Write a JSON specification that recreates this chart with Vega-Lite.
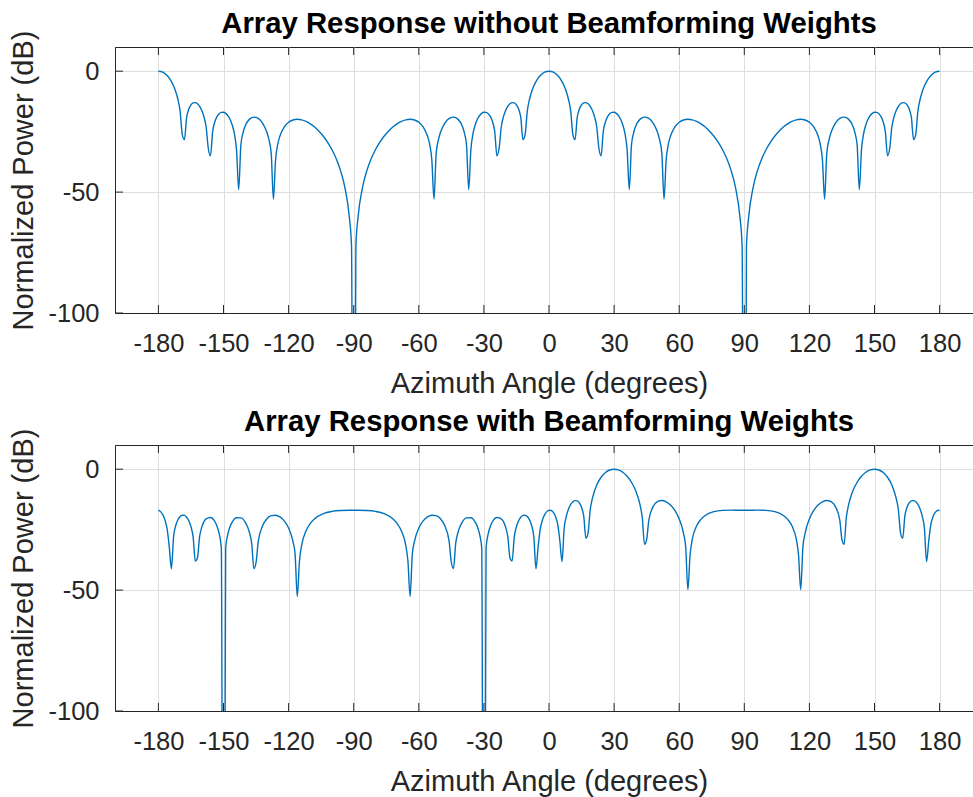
{
"$schema":"https://vega.github.io/schema/vega-lite/v6.json",
"background":"white",
"padding":{"left":8,"top":9,"right":0,"bottom":0},
"bounds":"flush",
"spacing":132,
"config":{
 "font":"Liberation Sans",
 "view":{"stroke":"#262626","strokeWidth":1},
 "axis":{"labelFont":"Liberation Sans","labelFontSize":25.5,"labelColor":"#262626","titleFont":"Liberation Sans","titleFontSize":29,"titleFontWeight":"normal","titleColor":"#262626","domainColor":"#262626","gridColor":"#dedede","gridWidth":1,"labelFlush":false,"labelOverlap":false,"ticks":false,"labelExpr":"'' + datum.value"},
 "title":{"font":"Liberation Sans","fontSize":29.3,"fontWeight":"bold","color":"#000000","anchor":"middle","frame":"group","baseline":"alphabetic","offset":-9}
},
"datasets":{
"xt":[{"v":-180},{"v":-150},{"v":-120},{"v":-90},{"v":-60},{"v":-30},{"v":0},{"v":30},{"v":60},{"v":90},{"v":120},{"v":150},{"v":180}],
"yt":[{"v":-100},{"v":-50},{"v":0}],
"t":[{"a":-180,"p":0},{"a":-179,"p":-0.11},{"a":-178,"p":-0.44},{"a":-177,"p":-0.99},{"a":-176,"p":-1.8},{"a":-175,"p":-2.88},{"a":-174,"p":-4.29},{"a":-173,"p":-6.11},{"a":-172,"p":-8.48},{"a":-171,"p":-11.71},{"a":-170,"p":-16.5},{"a":-169,"p":-26.2},{"a":-168,"p":-28.3},{"a":-167,"p":-19.14},{"a":-166,"p":-15.65},{"a":-165,"p":-13.9},{"a":-164,"p":-13.11},{"a":-163,"p":-13.0},{"a":-162,"p":-13.47},{"a":-161,"p":-14.51},{"a":-160,"p":-16.23},{"a":-159,"p":-18.88},{"a":-158,"p":-23.08},{"a":-157,"p":-31.97},{"a":-156,"p":-35.0},{"a":-155,"p":-24.97},{"a":-154,"p":-20.99},{"a":-153,"p":-18.81},{"a":-152,"p":-17.6},{"a":-151,"p":-17.03},{"a":-150,"p":-16.99},{"a":-149,"p":-17.44},{"a":-148,"p":-18.37},{"a":-147,"p":-19.89},{"a":-146,"p":-22.2},{"a":-145,"p":-25.75},{"a":-144,"p":-32.44},{"a":-143,"p":-49.0},{"a":-142,"p":-30.58},{"a":-141,"p":-25.48},{"a":-140,"p":-22.67},{"a":-138,"p":-19.83},{"a":-136,"p":-18.99},{"a":-134,"p":-19.53},{"a":-132,"p":-21.44},{"a":-130,"p":-25.26},{"a":-129,"p":-28.54},{"a":-128,"p":-34.08},{"a":-127,"p":-52.9},{"a":-126,"p":-36.6},{"a":-125,"p":-30.21},{"a":-124,"p":-26.8},{"a":-122,"p":-23.03},{"a":-120,"p":-21.1},{"a":-118,"p":-20.17},{"a":-116,"p":-19.89},{"a":-114,"p":-20.12},{"a":-112,"p":-20.76},{"a":-110,"p":-21.77},{"a":-108,"p":-23.12},{"a":-106,"p":-24.85},{"a":-104,"p":-26.91},{"a":-102,"p":-29.45},{"a":-100,"p":-32.51},{"a":-98,"p":-36.35},{"a":-96,"p":-41.32},{"a":-94,"p":-48.35},{"a":-92,"p":-60.4},{"a":-91,"p":-72.4},{"a":-90,"p":-300},
{"a":-89,"p":-72.4},{"a":-88,"p":-60.4},{"a":-86,"p":-48.35},{"a":-84,"p":-41.32},{"a":-82,"p":-36.35},{"a":-80,"p":-32.51},{"a":-78,"p":-29.45},{"a":-76,"p":-26.91},{"a":-74,"p":-24.85},{"a":-72,"p":-23.12},{"a":-70,"p":-21.77},{"a":-68,"p":-20.76},{"a":-66,"p":-20.12},{"a":-64,"p":-19.89},{"a":-62,"p":-20.17},{"a":-60,"p":-21.1},{"a":-58,"p":-23.03},{"a":-56,"p":-26.8},{"a":-55,"p":-30.21},{"a":-54,"p":-36.6},{"a":-53,"p":-52.9},{"a":-52,"p":-34.08},{"a":-51,"p":-28.54},{"a":-50,"p":-25.26},{"a":-48,"p":-21.44},{"a":-46,"p":-19.53},{"a":-44,"p":-18.99},{"a":-42,"p":-19.83},{"a":-40,"p":-22.67},{"a":-39,"p":-25.48},{"a":-38,"p":-30.58},{"a":-37,"p":-49.0},{"a":-36,"p":-32.44},{"a":-35,"p":-25.75},{"a":-34,"p":-22.2},{"a":-33,"p":-19.89},{"a":-32,"p":-18.37},{"a":-31,"p":-17.44},{"a":-30,"p":-16.99},{"a":-29,"p":-17.03},{"a":-28,"p":-17.6},{"a":-27,"p":-18.81},{"a":-26,"p":-20.99},{"a":-25,"p":-24.97},{"a":-24,"p":-35.0},{"a":-23,"p":-31.97},{"a":-22,"p":-23.08},{"a":-21,"p":-18.88},{"a":-20,"p":-16.23},{"a":-19,"p":-14.51},{"a":-18,"p":-13.47},{"a":-17,"p":-13.0},{"a":-16,"p":-13.11},{"a":-15,"p":-13.9},{"a":-14,"p":-15.65},{"a":-13,"p":-19.14},{"a":-12,"p":-28.3},{"a":-11,"p":-26.2},{"a":-10,"p":-16.5},{"a":-9,"p":-11.71},{"a":-8,"p":-8.48},{"a":-7,"p":-6.11},{"a":-6,"p":-4.29},{"a":-5,"p":-2.88},{"a":-4,"p":-1.8},{"a":-3,"p":-0.99},{"a":-2,"p":-0.44},{"a":-1,"p":-0.11},
{"a":0,"p":0},{"a":1,"p":-0.11},{"a":2,"p":-0.44},{"a":3,"p":-0.99},{"a":4,"p":-1.8},{"a":5,"p":-2.88},{"a":6,"p":-4.29},{"a":7,"p":-6.11},{"a":8,"p":-8.48},{"a":9,"p":-11.71},{"a":10,"p":-16.5},{"a":11,"p":-26.2},{"a":12,"p":-28.3},{"a":13,"p":-19.14},{"a":14,"p":-15.65},{"a":15,"p":-13.9},{"a":16,"p":-13.11},{"a":17,"p":-13.0},{"a":18,"p":-13.47},{"a":19,"p":-14.51},{"a":20,"p":-16.23},{"a":21,"p":-18.88},{"a":22,"p":-23.08},{"a":23,"p":-31.97},{"a":24,"p":-35.0},{"a":25,"p":-24.97},{"a":26,"p":-20.99},{"a":27,"p":-18.81},{"a":28,"p":-17.6},{"a":29,"p":-17.03},{"a":30,"p":-16.99},{"a":31,"p":-17.44},{"a":32,"p":-18.37},{"a":33,"p":-19.89},{"a":34,"p":-22.2},{"a":35,"p":-25.75},{"a":36,"p":-32.44},{"a":37,"p":-49.0},{"a":38,"p":-30.58},{"a":39,"p":-25.48},{"a":40,"p":-22.67},{"a":42,"p":-19.83},{"a":44,"p":-18.99},{"a":46,"p":-19.53},{"a":48,"p":-21.44},{"a":50,"p":-25.26},{"a":51,"p":-28.54},{"a":52,"p":-34.08},{"a":53,"p":-52.9},{"a":54,"p":-36.6},{"a":55,"p":-30.21},{"a":56,"p":-26.8},{"a":58,"p":-23.03},{"a":60,"p":-21.1},{"a":62,"p":-20.17},{"a":64,"p":-19.89},{"a":66,"p":-20.12},{"a":68,"p":-20.76},{"a":70,"p":-21.77},{"a":72,"p":-23.12},{"a":74,"p":-24.85},{"a":76,"p":-26.91},{"a":78,"p":-29.45},{"a":80,"p":-32.51},{"a":82,"p":-36.35},{"a":84,"p":-41.32},{"a":86,"p":-48.35},{"a":88,"p":-60.4},{"a":89,"p":-72.4},{"a":90,"p":-300},
{"a":91,"p":-72.4},{"a":92,"p":-60.4},{"a":94,"p":-48.35},{"a":96,"p":-41.32},{"a":98,"p":-36.35},{"a":100,"p":-32.51},{"a":102,"p":-29.45},{"a":104,"p":-26.91},{"a":106,"p":-24.85},{"a":108,"p":-23.12},{"a":110,"p":-21.77},{"a":112,"p":-20.76},{"a":114,"p":-20.12},{"a":116,"p":-19.89},{"a":118,"p":-20.17},{"a":120,"p":-21.1},{"a":122,"p":-23.03},{"a":124,"p":-26.8},{"a":125,"p":-30.21},{"a":126,"p":-36.6},{"a":127,"p":-52.9},{"a":128,"p":-34.08},{"a":129,"p":-28.54},{"a":130,"p":-25.26},{"a":132,"p":-21.44},{"a":134,"p":-19.53},{"a":136,"p":-18.99},{"a":138,"p":-19.83},{"a":140,"p":-22.67},{"a":141,"p":-25.48},{"a":142,"p":-30.58},{"a":143,"p":-49.0},{"a":144,"p":-32.44},{"a":145,"p":-25.75},{"a":146,"p":-22.2},{"a":147,"p":-19.89},{"a":148,"p":-18.37},{"a":149,"p":-17.44},{"a":150,"p":-16.99},{"a":151,"p":-17.03},{"a":152,"p":-17.6},{"a":153,"p":-18.81},{"a":154,"p":-20.99},{"a":155,"p":-24.97},{"a":156,"p":-35.0},{"a":157,"p":-31.97},{"a":158,"p":-23.08},{"a":159,"p":-18.88},{"a":160,"p":-16.23},{"a":161,"p":-14.51},{"a":162,"p":-13.47},{"a":163,"p":-13.0},{"a":164,"p":-13.11},{"a":165,"p":-13.9},{"a":166,"p":-15.65},{"a":167,"p":-19.14},{"a":168,"p":-28.3},{"a":169,"p":-26.2},{"a":170,"p":-16.5},{"a":171,"p":-11.71},{"a":172,"p":-8.48},{"a":173,"p":-6.11},{"a":174,"p":-4.29},{"a":175,"p":-2.88},{"a":176,"p":-1.8},{"a":177,"p":-0.99},{"a":178,"p":-0.44},{"a":179,"p":-0.11},{"a":180,"p":0}],
"b":[{"a":-180,"p":-16.99},{"a":-179,"p":-17.55},{"a":-178,"p":-18.82},{"a":-177,"p":-20.98},{"a":-176,"p":-24.62},{"a":-175,"p":-32.0},{"a":-174,"p":-41.17},{"a":-173,"p":-27.82},{"a":-172,"p":-23.3},{"a":-171,"p":-20.89},{"a":-170,"p":-19.57},{"a":-169,"p":-19.02},{"a":-168,"p":-19.12},{"a":-167,"p":-19.85},{"a":-166,"p":-21.3},{"a":-165,"p":-23.76},{"a":-164,"p":-28.01},{"a":-163,"p":-37.98},{"a":-162,"p":-36.6},{"a":-161,"p":-27.82},{"a":-160,"p":-23.98},{"a":-158,"p":-20.54},{"a":-156,"p":-19.96},{"a":-154,"p":-21.64},{"a":-153,"p":-23.55},{"a":-152,"p":-26.68},{"a":-151,"p":-32.51},{"a":-150,"p":-300},{"a":-149,"p":-32.61},{"a":-148,"p":-26.87},{"a":-147,"p":-23.78},{"a":-146,"p":-21.88},{"a":-144,"p":-20.08},{"a":-142,"p":-20.12},{"a":-140,"p":-21.91},{"a":-138,"p":-26.32},{"a":-137,"p":-30.72},{"a":-136,"p":-41.12},{"a":-135,"p":-38.59},{"a":-134,"p":-29.96},{"a":-132,"p":-23.41},{"a":-130,"p":-20.52},{"a":-128,"p":-19.23},{"a":-126,"p":-19.02},{"a":-124,"p":-19.72},{"a":-122,"p":-21.39},{"a":-120,"p":-24.35},{"a":-118,"p":-29.87},{"a":-117,"p":-35.27},{"a":-116,"p":-52.6},{"a":-115,"p":-38.18},{"a":-114,"p":-31.52},{"a":-112,"p":-25.53},{"a":-110,"p":-22.42},{"a":-108,"p":-20.48},{"a":-104,"p":-18.36},{"a":-100,"p":-17.45},{"a":-96,"p":-17.09},{"a":-92,"p":-17.0},
{"a":-90,"p":-16.99},{"a":-88,"p":-17.0},{"a":-84,"p":-17.09},{"a":-80,"p":-17.45},{"a":-76,"p":-18.36},{"a":-72,"p":-20.48},{"a":-70,"p":-22.42},{"a":-68,"p":-25.53},{"a":-66,"p":-31.52},{"a":-65,"p":-38.18},{"a":-64,"p":-52.6},{"a":-63,"p":-35.27},{"a":-62,"p":-29.87},{"a":-60,"p":-24.35},{"a":-58,"p":-21.39},{"a":-56,"p":-19.72},{"a":-54,"p":-19.02},{"a":-52,"p":-19.23},{"a":-50,"p":-20.52},{"a":-48,"p":-23.41},{"a":-46,"p":-29.96},{"a":-45,"p":-38.59},{"a":-44,"p":-41.12},{"a":-43,"p":-30.72},{"a":-42,"p":-26.32},{"a":-40,"p":-21.91},{"a":-38,"p":-20.12},{"a":-36,"p":-20.08},{"a":-34,"p":-21.88},{"a":-33,"p":-23.78},{"a":-32,"p":-26.87},{"a":-31,"p":-32.61},{"a":-30,"p":-300},{"a":-29,"p":-32.51},{"a":-28,"p":-26.68},{"a":-27,"p":-23.55},{"a":-26,"p":-21.64},{"a":-24,"p":-19.96},{"a":-22,"p":-20.54},{"a":-20,"p":-23.98},{"a":-19,"p":-27.82},{"a":-18,"p":-36.6},{"a":-17,"p":-37.98},{"a":-16,"p":-28.01},{"a":-15,"p":-23.76},{"a":-14,"p":-21.3},{"a":-13,"p":-19.85},{"a":-12,"p":-19.12},{"a":-11,"p":-19.02},{"a":-10,"p":-19.57},{"a":-9,"p":-20.89},{"a":-8,"p":-23.3},{"a":-7,"p":-27.82},{"a":-6,"p":-41.17},{"a":-5,"p":-32.0},{"a":-4,"p":-24.62},{"a":-3,"p":-20.98},{"a":-2,"p":-18.82},{"a":-1,"p":-17.55},{"a":0,"p":-16.99},{"a":1,"p":-17.08},{"a":2,"p":-17.86},{"a":3,"p":-19.56},{"a":4,"p":-22.72},{"a":5,"p":-29.58},{"a":6,"p":-38.26},{"a":7,"p":-24.4},{"a":8,"p":-19.38},{"a":9,"p":-16.43},{"a":10,"p":-14.57},{"a":11,"p":-13.47},{"a":12,"p":-12.99},{"a":13,"p":-13.12},{"a":14,"p":-13.96},{"a":15,"p":-15.76},{"a":16,"p":-19.32},{"a":17,"p":-28.56},{"a":18,"p":-26.42},{"a":19,"p":-16.78},{"a":20,"p":-12.07},{"a":22,"p":-6.54},{"a":24,"p":-3.33},{"a":26,"p":-1.39},{"a":28,"p":-0.33},{"a":30,"p":0},{"a":32,"p":-0.32},{"a":34,"p":-1.28},{"a":36,"p":-2.92},{"a":38,"p":-5.4},{"a":40,"p":-9.07},{"a":42,"p":-15.01},{"a":43,"p":-20.09},{"a":44,"p":-31.1},{"a":45,"p":-29.16},{"a":46,"p":-21.05},{"a":48,"p":-15.48},{"a":50,"p":-13.46},{"a":52,"p":-12.97},{"a":54,"p":-13.47},{"a":56,"p":-14.81},{"a":58,"p":-17.07},{"a":60,"p":-20.58},{"a":62,"p":-26.6},{"a":63,"p":-32.24},{"a":64,"p":-49.8},{"a":65,"p":-35.6},{"a":66,"p":-29.14},{"a":68,"p":-23.53},{"a":70,"p":-20.76},{"a":72,"p":-19.13},{"a":76,"p":-17.55},{"a":80,"p":-17.03},{"a":84,"p":-16.95},{"a":88,"p":-16.98},{"a":90,"p":-16.99},
{"a":92,"p":-16.98},{"a":96,"p":-16.95},{"a":100,"p":-17.03},{"a":104,"p":-17.55},{"a":108,"p":-19.13},{"a":110,"p":-20.76},{"a":112,"p":-23.53},{"a":114,"p":-29.14},{"a":115,"p":-35.6},{"a":116,"p":-49.8},{"a":117,"p":-32.24},{"a":118,"p":-26.6},{"a":120,"p":-20.58},{"a":122,"p":-17.07},{"a":124,"p":-14.81},{"a":126,"p":-13.47},{"a":128,"p":-12.97},{"a":130,"p":-13.46},{"a":132,"p":-15.48},{"a":134,"p":-21.05},{"a":135,"p":-29.16},{"a":136,"p":-31.1},{"a":137,"p":-20.09},{"a":138,"p":-15.01},{"a":140,"p":-9.07},{"a":142,"p":-5.4},{"a":144,"p":-2.92},{"a":146,"p":-1.28},{"a":148,"p":-0.32},{"a":150,"p":0},{"a":152,"p":-0.33},{"a":154,"p":-1.39},{"a":156,"p":-3.33},{"a":158,"p":-6.54},{"a":160,"p":-12.07},{"a":161,"p":-16.78},{"a":162,"p":-26.42},{"a":163,"p":-28.56},{"a":164,"p":-19.32},{"a":165,"p":-15.76},{"a":166,"p":-13.96},{"a":167,"p":-13.12},{"a":168,"p":-12.99},{"a":169,"p":-13.47},{"a":170,"p":-14.57},{"a":171,"p":-16.43},{"a":172,"p":-19.38},{"a":173,"p":-24.4},{"a":174,"p":-38.26},{"a":175,"p":-29.58},{"a":176,"p":-22.72},{"a":177,"p":-19.56},{"a":178,"p":-17.86},{"a":179,"p":-17.08},{"a":180,"p":-16.99}]
},
"vconcat":[
{"width":868,"height":266,
 "title":{"text":"Array Response without Beamforming Weights"},
 "layer":[
  {"data":{"name":"t"},
   "mark":{"type":"line","color":"#0072BD","strokeWidth":1.4,"clip":true,"interpolate":"monotone"},
   "encoding":{
    "x":{"field":"a","type":"quantitative","scale":{"domain":[-200,200],"nice":false,"zero":false},
     "axis":{"orient":"bottom","values":[-180,-150,-120,-90,-60,-30,0,30,60,90,120,150,180],"title":"Azimuth Angle (degrees)","grid":true,"labelPadding":18,"titleX":434,"titleY":79,"titleBaseline":"alphabetic"}},
    "y":{"field":"p","type":"quantitative","scale":{"domain":[-100,10],"nice":false,"zero":false},
     "axis":{"values":[-100,-50,0],"title":"Normalized Power (dB)","grid":true,"labelPadding":16,"titleX":-83,"titleY":133,"titleAngle":-90,"titleBaseline":"alphabetic"}}}},
  {"data":{"name":"xt"},
   "mark":{"type":"tick","orient":"vertical","size":16,"thickness":1,"color":"#262626","opacity":1,"clip":true},
   "encoding":{"x":{"field":"v","type":"quantitative"},"y":{"datum":-100}}},
  {"data":{"name":"xt"},
   "mark":{"type":"tick","orient":"vertical","size":16,"thickness":1,"color":"#262626","opacity":1,"clip":true},
   "encoding":{"x":{"field":"v","type":"quantitative"},"y":{"datum":10}}},
  {"data":{"name":"yt"},
   "mark":{"type":"tick","orient":"horizontal","size":16,"thickness":1,"color":"#262626","opacity":1,"clip":true},
   "encoding":{"y":{"field":"v","type":"quantitative"},"x":{"datum":-200}}}
 ]},
{"width":868,"height":266,
 "title":{"text":"Array Response with Beamforming Weights"},
 "layer":[
  {"data":{"name":"b"},
   "mark":{"type":"line","color":"#0072BD","strokeWidth":1.4,"clip":true,"interpolate":"monotone"},
   "encoding":{
    "x":{"field":"a","type":"quantitative","scale":{"domain":[-200,200],"nice":false,"zero":false},
     "axis":{"orient":"bottom","values":[-180,-150,-120,-90,-60,-30,0,30,60,90,120,150,180],"title":"Azimuth Angle (degrees)","grid":true,"labelPadding":18,"titleX":434,"titleY":79,"titleBaseline":"alphabetic"}},
    "y":{"field":"p","type":"quantitative","scale":{"domain":[-100,10],"nice":false,"zero":false},
     "axis":{"values":[-100,-50,0],"title":"Normalized Power (dB)","grid":true,"labelPadding":16,"titleX":-83,"titleY":133,"titleAngle":-90,"titleBaseline":"alphabetic"}}}},
  {"data":{"name":"xt"},
   "mark":{"type":"tick","orient":"vertical","size":16,"thickness":1,"color":"#262626","opacity":1,"clip":true},
   "encoding":{"x":{"field":"v","type":"quantitative"},"y":{"datum":-100}}},
  {"data":{"name":"xt"},
   "mark":{"type":"tick","orient":"vertical","size":16,"thickness":1,"color":"#262626","opacity":1,"clip":true},
   "encoding":{"x":{"field":"v","type":"quantitative"},"y":{"datum":10}}},
  {"data":{"name":"yt"},
   "mark":{"type":"tick","orient":"horizontal","size":16,"thickness":1,"color":"#262626","opacity":1,"clip":true},
   "encoding":{"y":{"field":"v","type":"quantitative"},"x":{"datum":-200}}}
 ]}
]
}
